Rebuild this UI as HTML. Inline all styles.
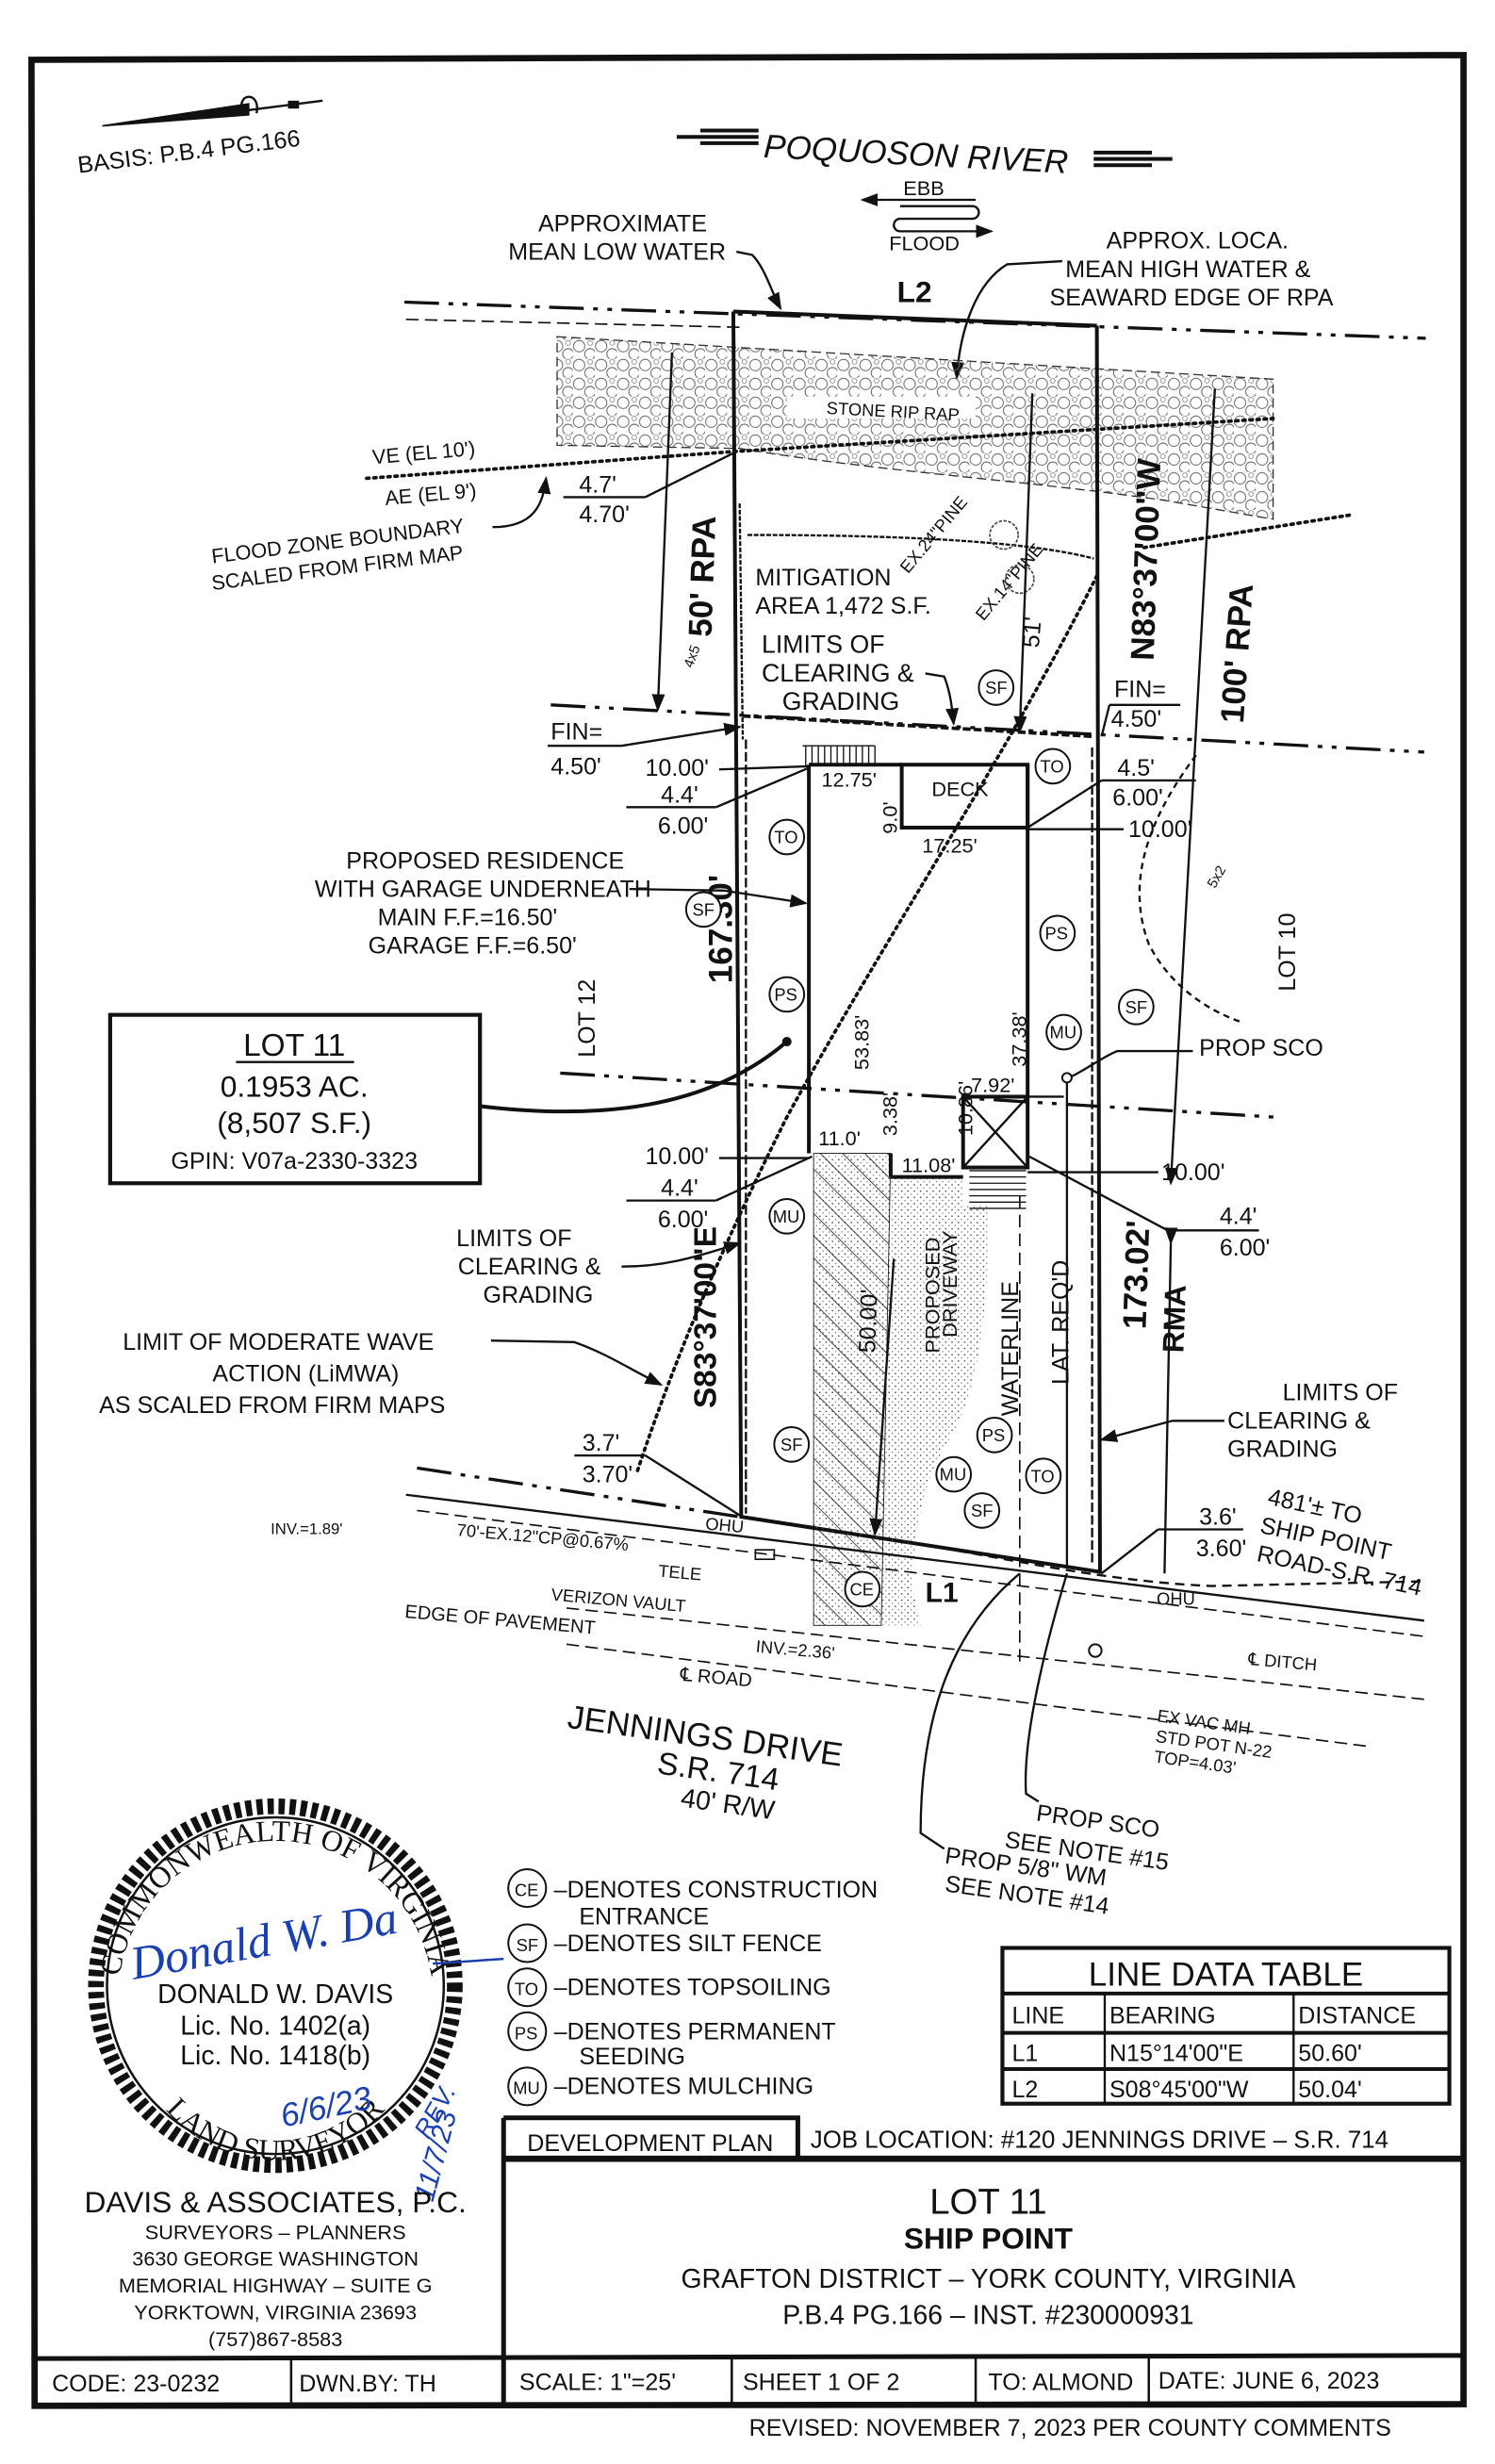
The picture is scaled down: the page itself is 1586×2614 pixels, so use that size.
<!DOCTYPE html>
<html><head><meta charset="utf-8"><style>
html,body{margin:0;padding:0;background:#fff}
svg{display:block}
text{font-family:"Liberation Sans",sans-serif;fill:#111}
.s{font-size:13px}.m{font-size:15px}.b{font-size:16px;font-weight:bold}.xs{font-size:9px}
.ln{stroke:#111;fill:none;stroke-width:1.4}
.th{stroke:#111;fill:none;stroke-width:2.4}
.dd{stroke:#111;fill:none;stroke-width:2;stroke-dasharray:22 6 3 6 3 6}
.dot{stroke:#111;fill:none;stroke-width:2.2;stroke-dasharray:1.5 3;stroke-linecap:round}
.ds{stroke:#111;fill:none;stroke-width:1;stroke-dasharray:8 4}
.c{fill:#fff;stroke:#111;stroke-width:1.2}
</style></head><body>
<svg width="1586" height="2614" viewBox="0 0 950 1566" preserveAspectRatio="none" xmlns="http://www.w3.org/2000/svg">
<defs>
<pattern id="rip" width="14" height="12" patternUnits="userSpaceOnUse">
<circle cx="4" cy="4" r="3.6" fill="none" stroke="#666" stroke-width=".6"/>
<circle cx="11" cy="9" r="3.4" fill="none" stroke="#666" stroke-width=".6"/>
<circle cx="11" cy="2" r="1.5" fill="none" stroke="#888" stroke-width=".5"/>
</pattern>
<pattern id="hatch" width="10" height="10" patternUnits="userSpaceOnUse" patternTransform="rotate(-45)">
<line x1="0" y1="0" x2="0" y2="10" stroke="#222" stroke-width="1"/>
</pattern>
<pattern id="stip" width="4" height="4" patternUnits="userSpaceOnUse">
<circle cx="1" cy="1" r=".5" fill="#444"/><circle cx="3" cy="3" r=".4" fill="#666"/>
</pattern>
<marker id="ar" markerWidth="8" markerHeight="8" refX="7" refY="4" orient="auto"><path d="M0,1 L8,4 L0,7z" fill="#111"/></marker>
<path id="sealTop" d="M75,1270 A100,100 0 0 1 275,1270"/>
<path id="sealBot" d="M85,1300 A92,92 0 0 0 265,1300"/>
</defs>
<rect width="950" height="1566" fill="#fff"/>
<!-- outer border -->
<path d="M20,38 L930,35 L930,1528 L22,1529 Z" fill="none" stroke="#111" stroke-width="4"/>

<!-- north arrow/basis -->
<path d="M65,80 L158,66 L158,73 Z" fill="#111" stroke="#111" stroke-width="1"/>
<path d="M154,72 C150,58 166,58 163,72" class="ln"/>
<line x1="158" y1="70" x2="205" y2="64" class="ln"/><rect x="183" y="64" width="7" height="5" fill="#111"/>
<text x="50" y="110" class="m" transform="rotate(-7 50 110)">BASIS: P.B.4 PG.166</text>

<!-- river -->
<g class="th"><path d="M430,87 L482,87 M445,83 L482,83 M445,91 L482,91 M695,101 L745,101 M695,97 L732,97 M695,105 L732,105"/></g>
<text x="485" y="100" style="font-size:21px;font-style:italic" transform="rotate(3 485 100)">POQUOSON RIVER</text>
<text x="574" y="124" class="s">EBB</text>
<line x1="620" y1="127" x2="548" y2="127" class="ln" marker-end="url(#ar)"/>
<path d="M572,131 L618,131 A4,4 0 0 1 618,139 L572,139 A4,4 0 0 0 572,147 L630,147" class="ln" marker-end="url(#ar)"/>
<text x="565" y="159" class="s">FLOOD</text>

<text x="342" y="147" class="m">APPROXIMATE</text>
<text x="323" y="165" class="m">MEAN LOW WATER</text>
<path d="M468,160 L478,162 C486,170 490,185 496,196" class="ln" marker-end="url(#ar)"/>
<text x="703" y="158" class="m">APPROX. LOCA.</text>
<text x="677" y="176" class="m">MEAN HIGH WATER &amp;</text>
<text x="667" y="194" class="m">SEAWARD EDGE OF RPA</text>
<path d="M675,166 L640,168 C620,180 610,210 608,240" class="ln" marker-end="url(#ar)"/>

<!-- L2 line -->
<path d="M257,192 L906,215" class="dd"/>
<path d="M258,203 L470,208" class="ds" stroke-dasharray="10 5 2 5"/>
<text x="570" y="192" class="b" style="font-size:19px">L2</text>

<!-- rip rap -->
<path d="M354,214 L809,241 L809,330 L740,318 C650,305 560,300 470,285 L354,283 Z" fill="url(#rip)" stroke="#333" stroke-width=".8" stroke-dasharray="6 3"/>
<rect x="500" y="252" width="120" height="14" fill="#fff"/>
<text x="525" y="263" class="xs" style="font-size:11px" transform="rotate(3 525 263)">STONE RIP RAP</text>

<!-- flood dotted lines -->
<path d="M233,304 L466,287 L809,266" class="dot"/>
<path d="M727,348 L860,327" class="dot"/>
<path d="M697,366 C640,480 560,600 500,710 C460,790 430,860 405,935" class="dot"/>
<text x="237" y="295" class="s" transform="rotate(-5 237 295)">VE (EL 10')</text>
<text x="245" y="321" class="s" transform="rotate(-5 245 321)">AE (EL 9')</text>
<text x="135" y="358" class="s" transform="rotate(-7 135 358)">FLOOD ZONE BOUNDARY</text>
<text x="135" y="375" class="s" transform="rotate(-7 135 375)">SCALED FROM FIRM MAP</text>
<path d="M313,335 C340,335 345,320 347,304" class="ln" marker-end="url(#ar)"/>
<text x="368" y="313" class="m">4.7'</text><line x1="358" y1="316" x2="410" y2="316" class="ln"/>
<text x="368" y="332" class="m">4.70'</text>
<line x1="410" y1="316" x2="466" y2="288" class="ln"/>

<!-- lot lines -->
<path d="M466,198 L697,207" class="th"/>
<path d="M466,198 L471,964 L699,999 L697,207" class="th"/>
<path d="M474,470 L474,962" class="ln" stroke-dasharray="6 2"/>
<path d="M694,475 L694,995" class="ln" stroke-dasharray="6 2"/>
<!-- mitigation area -->
<path d="M470,320 L472,470 M475,340 C560,340 650,343 695,355" class="ln" stroke-dasharray="3 1"/>
<text x="480" y="372" class="m">MITIGATION</text>
<text x="480" y="390" class="m">AREA 1,472 S.F.</text>
<text x="577" y="365" class="xs" style="font-size:11px" transform="rotate(-50 577 365)">EX.24"PINE</text>
<text x="625" y="395" class="xs" style="font-size:11px" transform="rotate(-50 625 395)">EX.14"PINE</text>
<circle cx="638" cy="340" r="9" fill="none" stroke="#444" stroke-dasharray="2 1"/>
<circle cx="648" cy="368" r="9" fill="none" stroke="#444" stroke-dasharray="2 1"/>

<!-- RPA dims -->
<line x1="427" y1="224" x2="418" y2="451" class="ln" marker-end="url(#ar)"/>
<text x="452" y="405" class="b" style="font-size:21px" transform="rotate(-88 452 405)">50' RPA</text>
<text x="440" y="425" class="xs" transform="rotate(-70 440 425)">4x5</text>
<line x1="772" y1="247" x2="744" y2="752" class="ln" marker-end="url(#ar)"/>
<text x="790" y="460" class="b" style="font-size:21px" transform="rotate(-86 790 460)">100' RPA</text>
<text x="733" y="420" class="b" style="font-size:21px" transform="rotate(-88 733 420)">N83°37'00"W</text>
<text x="660" y="412" class="m" transform="rotate(-85 660 412)">51'</text>
<line x1="656" y1="250" x2="648" y2="465" class="ln" marker-end="url(#ar)"/>

<!-- upper dash-dot -->
<path d="M350,448 L905,478" class="dd"/>
<line x1="472" y1="455" x2="694" y2="468" stroke="#111" stroke-width="2.2" stroke-dasharray="5 2"/>
<text x="484" y="415" class="m" style="font-size:16px">LIMITS OF</text>
<text x="484" y="433" class="m" style="font-size:16px">CLEARING &amp;</text>
<text x="497" y="451" class="m" style="font-size:16px">GRADING</text>
<path d="M588,428 L600,430 C604,440 605,450 606,460" class="ln" marker-end="url(#ar)"/>
<text x="350" y="470" class="m">FIN=</text><line x1="348" y1="474" x2="395" y2="474" class="ln"/>
<text x="350" y="492" class="m">4.50'</text>
<line x1="395" y1="474" x2="470" y2="462" class="ln" marker-end="url(#ar)"/>
<text x="708" y="443" class="m">FIN=</text><line x1="705" y1="448" x2="750" y2="448" class="ln"/>
<text x="706" y="462" class="m">4.50'</text>
<line x1="705" y1="448" x2="700" y2="468" class="ln"/>

<!-- residence -->
<path d="M514,486 L514,733 M514,486 L573,486 M653,486 L653,697" class="th"/>
<rect x="573" y="486" width="80" height="40" class="th"/>
<g stroke="#111" stroke-width=".8"><path d="M510,474 L556,474 M512,474V487M516,474V487M520,474V487M524,474V487M528,474V487M532,474V487M536,474V487M540,474V487M544,474V487M548,474V487M552,474V487M556,474V487"/></g>
<text x="522" y="500" class="s">12.75'</text>
<text x="592" y="506" class="s">DECK</text>
<text x="570" y="530" class="s" transform="rotate(-90 570 530)">9.0'</text>
<text x="586" y="542" class="s">17.25'</text>
<text x="410" y="493" class="m">10.00'</text>
<line x1="457" y1="489" x2="514" y2="487" class="ln"/>
<text x="420" y="510" class="m">4.4'</text><line x1="398" y1="513" x2="455" y2="513" class="ln"/>
<text x="418" y="530" class="m">6.00'</text>
<line x1="455" y1="513" x2="514" y2="488" class="ln"/>
<text x="710" y="493" class="m">4.5'</text><line x1="700" y1="496" x2="760" y2="496" class="ln"/>
<text x="707" y="512" class="m">6.00'</text>
<text x="717" y="532" class="m">10.00'</text>
<line x1="653" y1="527" x2="714" y2="527" class="ln"/>
<line x1="653" y1="526" x2="700" y2="496" class="ln"/>
<path d="M760,480 C730,520 715,560 730,600 C740,620 760,640 790,650" class="ln" stroke-dasharray="4 3"/>
<text x="772" y="565" class="xs" transform="rotate(-60 772 565)">5x2</text>
<text x="823" y="630" class="m" transform="rotate(-90 823 630)">LOT 10</text>
<text x="378" y="672" class="m" transform="rotate(-90 378 672)">LOT 12</text>

<text x="220" y="552" class="m">PROPOSED RESIDENCE</text>
<text x="200" y="570" class="m">WITH GARAGE UNDERNEATH</text>
<text x="240" y="588" class="m">MAIN F.F.=16.50'</text>
<text x="234" y="606" class="m">GARAGE F.F.=6.50'</text>
<path d="M400,565 L460,566 L512,574" class="ln" marker-end="url(#ar)"/>
<text x="465" y="625" class="b" style="font-size:21px" transform="rotate(-90 465 625)">167.30'</text>
<text x="552" y="680" class="s" transform="rotate(-90 552 680)">53.83'</text>
<text x="652" y="678" class="s" transform="rotate(-90 652 678)">37.38'</text>

<!-- mid dash-dot -->
<path d="M356,682 L810,710" class="dd"/>
<text x="617" y="694" class="s">7.92'</text>
<line x1="653" y1="697" x2="676" y2="697" class="ln"/>
<circle cx="678" cy="685" r="3" class="c"/>
<line x1="678" y1="688" x2="678" y2="995" class="ln"/>
<text x="762" y="671" class="m">PROP SCO</text>
<path d="M758,668 L710,668 C700,672 690,680 681,684" class="ln"/>
<text x="570" y="722" class="s" transform="rotate(-90 570 722)">3.38'</text>
<text x="618" y="722" class="s" transform="rotate(-90 618 722)">10.86'</text>
<text x="520" y="728" class="s">11.0'</text>
<text x="573" y="745" class="s">11.08'</text>
<rect x="612" y="697" width="41" height="45" class="th"/>
<path d="M612,697 L653,742 M653,697 L612,742" class="ln"/>
<g stroke="#111" stroke-width=".8"><path d="M616,744H652M616,748H652M616,752H652M616,756H652M616,760H652M616,764H652M616,768H652"/></g>
<!-- driveway -->
<path d="M517,733 L566,733 L566,748 L612,748 L612,766 L628,766 L628,800 C625,850 620,890 600,920 C585,945 580,980 580,1010 L585,1033 L517,1033 Z" fill="url(#stip)"/>
<path d="M517,733 L566,733 L560,1033 L517,1033 Z" fill="url(#hatch)" stroke="#111" stroke-width=".5"/>
<line x1="566" y1="733" x2="566" y2="748" class="th"/><line x1="566" y1="748" x2="612" y2="748" class="th"/>
<text x="556" y="860" class="m" transform="rotate(-88 556 860)">50.00'</text>
<line x1="568" y1="800" x2="556" y2="975" class="ln" marker-end="url(#ar)"/>
<text x="597" y="860" class="s" transform="rotate(-90 597 860)">PROPOSED</text>
<text x="608" y="850" class="s" transform="rotate(-90 608 850)">DRIVEWAY</text>
<line x1="648" y1="760" x2="648" y2="1060" class="ds"/>
<text x="647" y="900" class="m" transform="rotate(-90 647 900)">WATERLINE</text>
<text x="679" y="880" class="m" transform="rotate(-90 679 880)">LAT. REQ'D</text>
<text x="410" y="740" class="m">10.00'</text>
<line x1="457" y1="736" x2="514" y2="736" class="ln"/>
<text x="420" y="760" class="m">4.4'</text><line x1="398" y1="763" x2="455" y2="763" class="ln"/>
<text x="418" y="780" class="m">6.00'</text>
<line x1="455" y1="763" x2="516" y2="735" class="ln"/>
<text x="738" y="750" class="m">10.00'</text>
<line x1="653" y1="745" x2="736" y2="745" class="ln"/>
<text x="775" y="778" class="m">4.4'</text><line x1="742" y1="782" x2="800" y2="782" class="ln"/>
<text x="775" y="798" class="m">6.00'</text>
<line x1="742" y1="782" x2="654" y2="735" class="ln"/>
<path d="M744,790 L740,1000" class="ln" marker-start="url(#ar)"/>
<text x="728" y="845" class="b" style="font-size:21px" transform="rotate(-88 728 845)">173.02'</text>
<text x="752" y="860" class="b" style="font-size:19px" transform="rotate(-88 752 860)">RMA</text>
<text x="455" y="895" class="b" style="font-size:20px" transform="rotate(-90 455 895)">S83°37'00"E</text>
<text x="290" y="792" class="m">LIMITS OF</text>
<text x="291" y="810" class="m">CLEARING &amp;</text>
<text x="307" y="828" class="m">GRADING</text>
<path d="M395,805 C420,805 440,800 470,790" class="ln" marker-end="url(#ar)"/>
<text x="78" y="858" class="m">LIMIT OF MODERATE WAVE</text>
<text x="135" y="878" class="m">ACTION (LiMWA)</text>
<text x="63" y="898" class="m">AS SCALED FROM FIRM MAPS</text>
<path d="M312,852 L365,853 C385,860 400,870 420,880" class="ln" marker-end="url(#ar)"/>
<text x="815" y="890" class="m">LIMITS OF</text>
<text x="780" y="908" class="m">CLEARING &amp;</text>
<text x="780" y="926" class="m">GRADING</text>
<path d="M778,903 L745,903 L700,915" class="ln" marker-end="url(#ar)"/>
<text x="370" y="922" class="m">3.7'</text><line x1="365" y1="925" x2="410" y2="925" class="ln"/>
<text x="370" y="942" class="m">3.70'</text>
<line x1="410" y1="925" x2="470" y2="963" class="ln"/>
<text x="762" y="969" class="m">3.6'</text><line x1="736" y1="972" x2="790" y2="972" class="ln"/>
<text x="760" y="989" class="m">3.60'</text>
<line x1="736" y1="972" x2="700" y2="1000" class="ln"/>
<text x="805" y="956" class="m" transform="rotate(12 805 956)">481'± TO</text>
<text x="800" y="974" class="m" transform="rotate(12 800 974)">SHIP POINT</text>
<text x="798" y="992" class="m" transform="rotate(12 798 992)">ROAD-S.R. 714</text>

<!-- LOT 11 box -->
<rect x="70" y="645" width="235" height="107" fill="#fff" stroke="#111" stroke-width="2.5"/>
<text x="187" y="671" style="font-size:20px" text-anchor="middle">LOT 11</text>
<line x1="150" y1="675" x2="225" y2="675" class="ln"/>
<text x="187" y="697" style="font-size:19px" text-anchor="middle">0.1953 AC.</text>
<text x="187" y="720" style="font-size:19px" text-anchor="middle">(8,507 S.F.)</text>
<text x="187" y="743" class="m" text-anchor="middle">GPIN: V07a-2330-3323</text>
<path d="M305,703 C380,712 450,705 500,662" class="th"/><circle cx="500" cy="662" r="3" fill="#111"/>

<!-- road -->
<path d="M265,933 L470,964" class="dd"/>
<path d="M258,950 L905,1030" class="ln"/>
<path d="M265,960 L905,1040" class="ds" stroke-dasharray="12 4"/>
<path d="M360,1022 L905,1080" class="ds"/>
<path d="M360,1045 L870,1110" class="ds" stroke-dasharray="16 5"/>
<path d="M470,964 L575,980 C640,990 700,1005 770,1008 L905,1005" class="ln" stroke-dasharray="6 4"/>
<text x="172" y="975" class="xs" style="font-size:10px">INV.=1.89'</text>
<text x="290" y="976" class="s" style="font-size:11px" transform="rotate(5 290 976)">70'-EX.12"CP@0.67%</text>
<text x="418" y="1002" class="s" style="font-size:11px" transform="rotate(5 418 1002)">TELE</text>
<rect x="480" y="985" width="12" height="6" fill="none" stroke="#111"/>
<text x="350" y="1017" class="s" style="font-size:11px" transform="rotate(5 350 1017)">VERIZON VAULT</text>
<text x="257" y="1028" class="s" style="font-size:12px" transform="rotate(5 257 1028)">EDGE OF PAVEMENT</text>
<text x="480" y="1050" class="s" style="font-size:11px" transform="rotate(5 480 1050)">INV.=2.36'</text>
<text x="432" y="1068" class="s" style="font-size:12px" transform="rotate(5 432 1068)">℄ ROAD</text>
<text x="735" y="1020" class="s" style="font-size:11px">OHU</text>
<text x="448" y="972" class="s" style="font-size:11px" transform="rotate(5 448 972)">OHU</text>
<text x="793" y="1058" class="s" style="font-size:11px" transform="rotate(5 793 1058)">℄ DITCH</text>
<text x="588" y="1018" class="b" style="font-size:18px">L1</text>
<circle cx="696" cy="1049" r="4" class="c"/>
<text x="735" y="1094" class="s" style="font-size:11px" transform="rotate(8 735 1094)">EX VAC MH</text>
<text x="734" y="1107" class="s" style="font-size:11px" transform="rotate(8 734 1107)">STD POT N-22</text>
<text x="733" y="1120" class="s" style="font-size:11px" transform="rotate(8 733 1120)">TOP=4.03'</text>
<text x="360" y="1098" style="font-size:21px" transform="rotate(8 360 1098)">JENNINGS DRIVE</text>
<text x="417" y="1127" style="font-size:20px" transform="rotate(8 417 1127)">S.R. 714</text>
<text x="432" y="1148" class="m" style="font-size:17px" transform="rotate(8 432 1148)">40' R/W</text>
<path d="M648,1000 C600,1040 585,1100 585,1165 L600,1175" class="ln"/>
<path d="M678,1000 C660,1060 650,1110 652,1140 L660,1145" class="ln"/>
<text x="658" y="1157" class="m" transform="rotate(8 658 1157)">PROP SCO</text>
<text x="638" y="1174" class="m" transform="rotate(8 638 1174)">SEE NOTE #15</text>
<text x="600" y="1184" class="m" transform="rotate(8 600 1184)">PROP 5/8" WM</text>
<text x="600" y="1202" class="m" transform="rotate(8 600 1202)">SEE NOTE #14</text>

<!-- circle labels -->
<g class="s" style="font-size:11px">
<circle cx="500" cy="532" r="11" class="c"/><text x="492" y="536">TO</text>
<circle cx="447" cy="578" r="11" class="c"/><text x="440" y="582">SF</text>
<circle cx="500" cy="632" r="11" class="c"/><text x="492" y="636">PS</text>
<circle cx="500" cy="773" r="11" class="c"/><text x="491" y="777">MU</text>
<circle cx="633" cy="437" r="11" class="c"/><text x="626" y="441">SF</text>
<circle cx="669" cy="487" r="11" class="c"/><text x="661" y="491">TO</text>
<circle cx="672" cy="593" r="11" class="c"/><text x="664" y="597">PS</text>
<circle cx="722" cy="640" r="11" class="c"/><text x="715" y="644">SF</text>
<circle cx="676" cy="656" r="11" class="c"/><text x="667" y="660">MU</text>
<circle cx="503" cy="918" r="11" class="c"/><text x="496" y="922">SF</text>
<circle cx="632" cy="912" r="11" class="c"/><text x="624" y="916">PS</text>
<circle cx="606" cy="937" r="11" class="c"/><text x="597" y="941">MU</text>
<circle cx="663" cy="938" r="11" class="c"/><text x="655" y="942">TO</text>
<circle cx="624" cy="960" r="11" class="c"/><text x="617" y="964">SF</text>
<circle cx="548" cy="1010" r="11" class="c"/><text x="540" y="1014">CE</text>
</g>

<!-- legend -->
<g class="m">
<circle cx="335" cy="1200" r="12" class="c"/><text x="327" y="1205" style="font-size:11px">CE</text>
<text x="352" y="1206">–DENOTES CONSTRUCTION</text><text x="368" y="1223">ENTRANCE</text>
<circle cx="335" cy="1235" r="12" class="c"/><text x="328" y="1240" style="font-size:11px">SF</text>
<text x="352" y="1240">–DENOTES SILT FENCE</text>
<circle cx="335" cy="1263" r="12" class="c"/><text x="327" y="1268" style="font-size:11px">TO</text>
<text x="352" y="1268">–DENOTES TOPSOILING</text>
<circle cx="335" cy="1291" r="12" class="c"/><text x="327" y="1296" style="font-size:11px">PS</text>
<text x="352" y="1296">–DENOTES PERMANENT</text><text x="368" y="1312">SEEDING</text>
<circle cx="335" cy="1326" r="12" class="c"/><text x="326" y="1331" style="font-size:11px">MU</text>
<text x="352" y="1331">–DENOTES MULCHING</text>
</g>

<!-- line data table -->
<rect x="637" y="1238" width="284" height="99" fill="none" stroke="#111" stroke-width="2.5"/>
<line x1="637" y1="1267" x2="921" y2="1267" class="th"/>
<line x1="637" y1="1292" x2="921" y2="1292" class="th"/>
<line x1="637" y1="1315" x2="921" y2="1315" class="th"/>
<line x1="702" y1="1267" x2="702" y2="1337" class="ln"/><line x1="822" y1="1267" x2="822" y2="1337" class="ln"/>
<text x="779" y="1262" text-anchor="middle" style="font-size:21px">LINE DATA TABLE</text>
<g class="m"><text x="643" y="1286">LINE</text><text x="705" y="1286">BEARING</text><text x="825" y="1286">DISTANCE</text>
<text x="643" y="1310">L1</text><text x="705" y="1310">N15°14'00"E</text><text x="825" y="1310">50.60'</text>
<text x="643" y="1333">L2</text><text x="705" y="1333">S08°45'00"W</text><text x="825" y="1333">50.04'</text></g>

<!-- seal -->
<circle cx="175" cy="1262" r="114" fill="none" stroke="#111" stroke-width="10" stroke-dasharray="4 3"/>
<circle cx="175" cy="1262" r="107" fill="none" stroke="#111" stroke-width="1.5"/>
<text style="font-family:'Liberation Serif',serif;font-size:19px"><textPath href="#sealTop" startOffset="50%" text-anchor="middle">COMMONWEALTH  OF  VIRGINIA</textPath></text>
<text style="font-family:'Liberation Serif',serif;font-size:19px"><textPath href="#sealBot" startOffset="50%" text-anchor="middle">LAND  SURVEYOR</textPath></text>
<g style="font-family:'Liberation Serif',serif;font-size:17px" text-anchor="middle">
<text x="175" y="1273">DONALD W. DAVIS</text><text x="175" y="1293">Lic. No. 1402(a)</text><text x="175" y="1312">Lic. No. 1418(b)</text></g>
<text x="85" y="1258" style="font-family:'Liberation Serif',serif;font-style:italic;font-size:30px;fill:#1a3fb0" transform="rotate(-10 85 1258)">Donald W. Da</text>
<path d="M275,1248 L320,1245" stroke="#1a3fb0" stroke-width="1.5"/>
<text x="180" y="1352" style="font-style:italic;font-size:21px;fill:#1a3fb0" transform="rotate(-12 180 1352)">6/6/23</text>
<text x="272" y="1360" style="font-style:italic;font-size:16px;fill:#1a3fb0" transform="rotate(-60 272 1360)">REV.</text>
<text x="275" y="1400" style="font-style:italic;font-size:18px;fill:#1a3fb0" transform="rotate(-75 275 1400)">11/7/23</text>

<!-- title block -->
<line x1="320" y1="1346" x2="320" y2="1528" stroke="#111" stroke-width="3"/>
<path d="M320,1346 L507,1346 L507,1372" stroke="#111" stroke-width="3" fill="none"/>
<line x1="320" y1="1372" x2="930" y2="1372" stroke="#111" stroke-width="4"/>
<text x="335" y="1367" class="m">DEVELOPMENT PLAN</text>
<text x="515" y="1365" class="m" style="font-size:15.5px">JOB LOCATION: #120 JENNINGS DRIVE – S.R. 714</text>
<text x="628" y="1407" text-anchor="middle" style="font-size:23px">LOT 11</text>
<text x="628" y="1429" text-anchor="middle" style="font-size:19px;font-weight:bold">SHIP POINT</text>
<text x="628" y="1454" text-anchor="middle" style="font-size:17px">GRAFTON DISTRICT – YORK COUNTY, VIRGINIA</text>
<text x="628" y="1477" text-anchor="middle" style="font-size:17px">P.B.4 PG.166 – INST. #230000931</text>
<text x="175" y="1406" text-anchor="middle" style="font-size:19px">DAVIS &amp; ASSOCIATES, P.C.</text>
<g class="s" text-anchor="middle"><text x="175" y="1423">SURVEYORS – PLANNERS</text><text x="175" y="1440">3630 GEORGE WASHINGTON</text><text x="175" y="1457">MEMORIAL HIGHWAY – SUITE G</text><text x="175" y="1474">YORKTOWN, VIRGINIA 23693</text><text x="175" y="1491">(757)867-8583</text></g>
<line x1="20" y1="1499" x2="930" y2="1497" stroke="#111" stroke-width="3"/>
<g stroke="#111" stroke-width="1.5"><line x1="185" y1="1499" x2="185" y2="1528"/><line x1="465" y1="1497" x2="465" y2="1528"/><line x1="620" y1="1497" x2="620" y2="1528"/><line x1="730" y1="1497" x2="730" y2="1528"/></g>
<g class="m"><text x="33" y="1520">CODE: 23-0232</text><text x="190" y="1520">DWN.BY: TH</text><text x="330" y="1519">SCALE: 1"=25'</text><text x="472" y="1519">SHEET 1 OF 2</text><text x="628" y="1519">TO: ALMOND</text><text x="736" y="1518">DATE: JUNE 6, 2023</text></g>
<text x="476" y="1548" class="m">REVISED: NOVEMBER 7, 2023 PER COUNTY COMMENTS</text>
</svg>
</body></html>
